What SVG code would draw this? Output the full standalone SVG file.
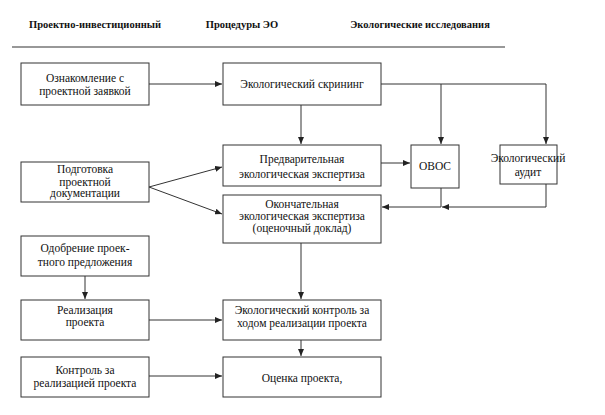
<svg xmlns="http://www.w3.org/2000/svg" width="605" height="415" viewBox="0 0 605 415">
<style>
  .box { fill: #fff; stroke: #333; stroke-width: 1; }
  .c { fill: none; stroke: #333; stroke-width: 1; }
</style>
<defs>
  <marker id="ah" markerWidth="8" markerHeight="6" refX="7" refY="3" orient="auto" markerUnits="userSpaceOnUse">
    <path d="M0,0 L7,3 L0,6 Z" fill="#222"/>
  </marker>
</defs>
<rect width="605" height="415" fill="#fff"/>
<g id="header" font-family="Liberation Serif, Times New Roman, serif" font-size="10.5" font-weight="bold" fill="#111" text-anchor="middle">
  <text x="95" y="28">Проектно-инвестиционный</text>
  <text x="242" y="28">Процедуры ЭО</text>
  <text x="420" y="28">Экологические исследования</text>
  <line x1="12" y1="47" x2="505" y2="47" stroke="#333" stroke-width="1.2"/>
</g>
<g id="connectors">
  <line class="c" x1="149" y1="84" x2="222" y2="84" marker-end="url(#ah)"/>
  <line class="c" x1="301" y1="105" x2="301" y2="144" marker-end="url(#ah)"/>
  <polyline class="c" points="381,84 546,84 546,144" marker-end="url(#ah)"/>
  <line class="c" x1="441" y1="84" x2="441" y2="144" marker-end="url(#ah)"/>
  <line class="c" x1="381" y1="163" x2="410" y2="163" marker-end="url(#ah)"/>
  <line class="c" x1="149" y1="187" x2="222" y2="167" marker-end="url(#ah)"/>
  <line class="c" x1="149" y1="187" x2="222" y2="214" marker-end="url(#ah)"/>
  <polyline class="c" points="546,184 546,207 442,207" marker-end="url(#ah)"/>
  <polyline class="c" points="441,188 441,207 382,207" marker-end="url(#ah)"/>
  <line class="c" x1="301" y1="243" x2="301" y2="299" marker-end="url(#ah)"/>
  <line class="c" x1="85" y1="276" x2="85" y2="299" marker-end="url(#ah)"/>
  <line class="c" x1="149" y1="320" x2="222" y2="320" marker-end="url(#ah)"/>
  <line class="c" x1="301" y1="340" x2="301" y2="356" marker-end="url(#ah)"/>
  <line class="c" x1="149" y1="376" x2="222" y2="376" marker-end="url(#ah)"/>
</g>
<g id="nodes" font-family="Liberation Serif, Times New Roman, serif" font-size="11.5" fill="#111" text-anchor="middle">
<g id="n1"><rect class="box" x="21" y="63" width="128" height="42"/>
  <text x="85" y="82">Ознакомление с</text><text x="85" y="95">проектной заявкой</text></g>
<g id="n2"><rect class="box" x="223" y="63" width="158" height="42"/>
  <text x="302" y="88">Экологический скрининг</text></g>
<g id="n3"><rect class="box" x="21" y="162" width="128" height="40"/>
  <text x="85" y="173">Подготовка</text><text x="85" y="186">проектной</text><text x="85" y="197">документации</text></g>
<g id="n4"><rect class="box" x="223" y="145" width="158" height="41"/>
  <text x="302" y="163">Предварительная</text><text x="302" y="178">экологическая экспертиза</text></g>
<g id="n5"><rect class="box" x="223" y="195" width="158" height="48"/>
  <text x="302" y="208">Окончательная</text><text x="302" y="220">экологическая экспертиза</text><text x="302" y="232">(оценочный доклад)</text></g>
<g id="n6"><rect class="box" x="411" y="145" width="48" height="43"/>
  <text x="435" y="170">ОВОС</text></g>
<g id="n7"><rect class="box" x="500" y="145" width="57" height="39"/>
  <text x="528" y="162">Экологический</text><text x="528" y="176">аудит</text></g>
<g id="n8"><rect class="box" x="21" y="236" width="128" height="40"/>
  <text x="85" y="252">Одобрение проек-</text><text x="85" y="266">тного предложения</text></g>
<g id="n9"><rect class="box" x="21" y="300" width="128" height="40"/>
  <text x="85" y="314">Реализация</text><text x="85" y="326">проекта</text></g>
<g id="n10"><rect class="box" x="223" y="300" width="158" height="40"/>
  <text x="302" y="314">Экологический контроль за</text><text x="302" y="327">ходом реализации проекта</text></g>
<g id="n11"><rect class="box" x="21" y="357" width="128" height="40"/>
  <text x="85" y="374">Контроль за</text><text x="85" y="387">реализацией проекта</text></g>
<g id="n12"><rect class="box" x="223" y="357" width="158" height="40"/>
  <text x="302" y="382">Оценка проекта,</text></g>
</g>
</svg>
